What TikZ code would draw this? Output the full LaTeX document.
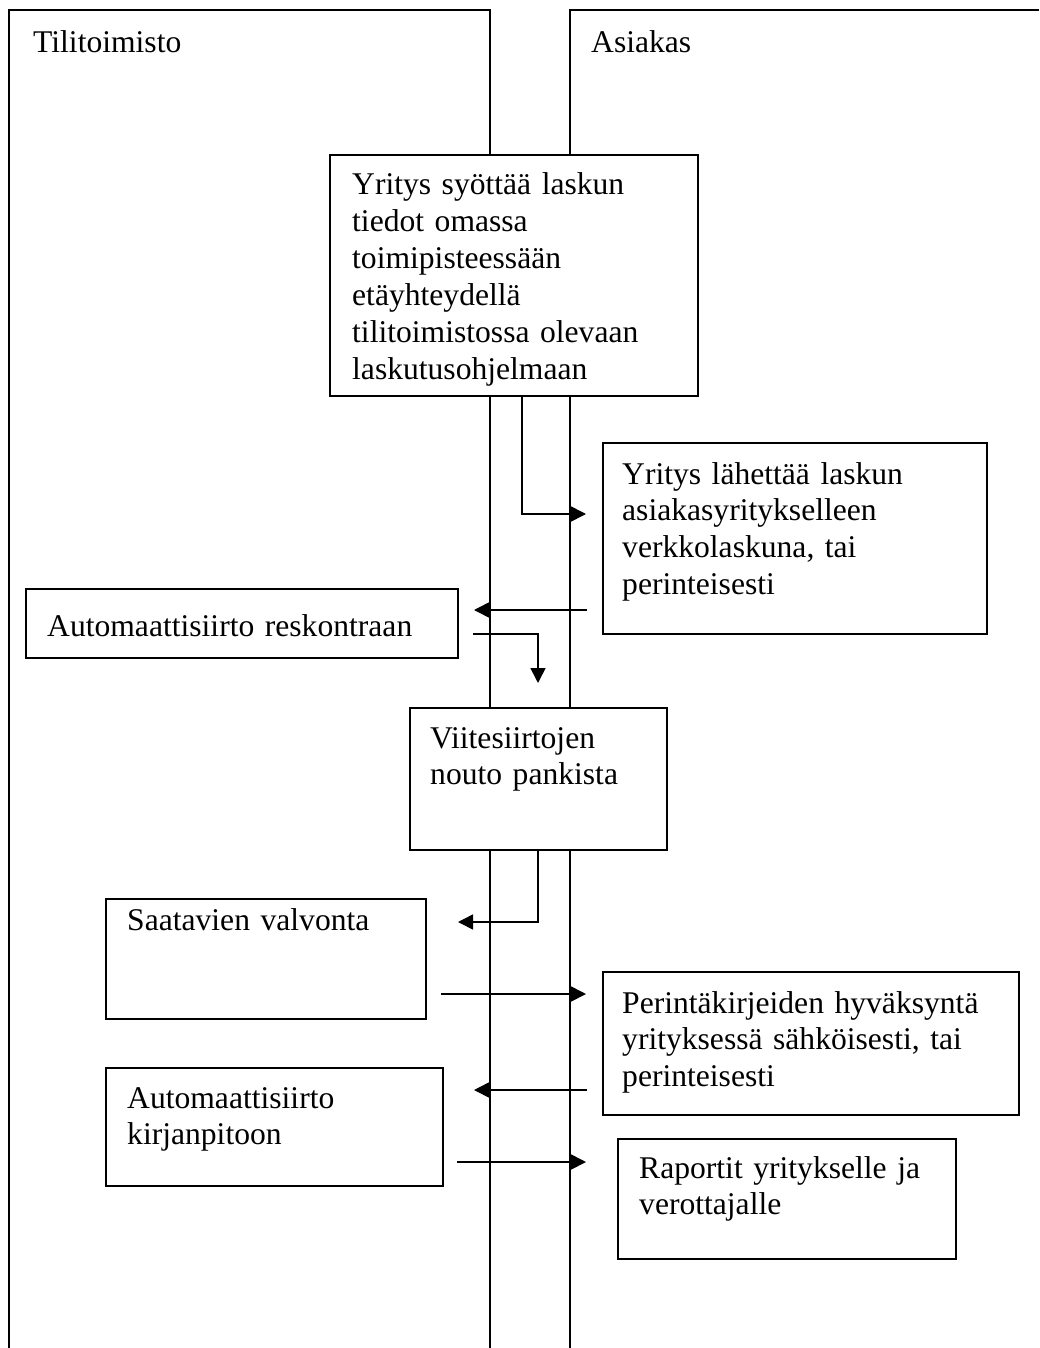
\documentclass[tikz,border=0pt]{standalone}
\usepackage{fontspec}
\setmainfont{Liberation Serif}
\usetikzlibrary{arrows.meta}
\usetikzlibrary{positioning}

\begin{document}
\begin{tikzpicture}[x=1pt,y=-1pt]
	\def\lw{1.6pt}

	\tikzset{lane/.style={draw,line width=\lw}}
	\tikzset{box/.style={draw,fill=white,line width=\lw,anchor=north west,inner sep=0pt}}
	\tikzset{txt/.style={anchor=base west,inner sep=0pt,align=left,text width=400pt,font=\fontsize{31.6}{36.8}\selectfont}}
	\tikzset{arr/.style={draw,line width=\lw,-{Triangle[length=15pt,width=15pt]}}}

	\useasboundingbox (0,0) rectangle (1039,1348);

	% lanes
	\draw[lane] (9,1348) |- (490,10) -- (490,1348);
	\draw[lane] (570,1348) |- (1039,10);
	\node[txt] (tili) at (33,53) {Tilitoimisto};
	\node[txt] (asiakas) at (591,53) {Asiakas};

	% boxes
	\node[box,minimum width=368pt,minimum height=241pt] (b1) at (329,154) {};
	\node[box,minimum width=384pt,minimum height=191pt] (b2) at (602,442) {};
	\node[box,minimum width=432pt,minimum height=69pt] (b3) at (25,588) {};
	\node[box,minimum width=257pt,minimum height=142pt] (b4) at (409,707) {};
	\node[box,minimum width=320pt,minimum height=120pt] (b5) at (105,898) {};
	\node[box,minimum width=416pt,minimum height=143pt] (b6) at (602,971) {};
	\node[box,minimum width=337pt,minimum height=118pt] (b7) at (105,1067) {};
	\node[box,minimum width=338pt,minimum height=120pt] (b8) at (617,1138) {};

	\node[txt] (t1) at (352,195) {Yritys syöttää laskun\\tiedot omassa\\toimipisteessään\\etäyhteydellä\\tilitoimistossa olevaan\\laskutusohjelmaan};
	\node[txt] (t2) at (622,484) {Yritys lähettää laskun\\asiakasyritykselleen\\verkkolaskuna, tai\\perinteisesti};
	\node[txt] (t3) at (47,636) {Automaattisiirto reskontraan};
	\node[txt] (t4) at (430,748) {Viitesiirtojen\\nouto pankista};
	\node[txt] (t5) at (127,930) {Saatavien valvonta};
	\node[txt] (t6) at (622,1013) {Perintäkirjeiden hyväksyntä\\yrityksessä sähköisesti, tai\\perinteisesti};
	\node[txt] (t7) at (127,1108) {Automaattisiirto\\kirjanpitoon};
	\node[txt] (t8) at (639,1178) {Raportit yritykselle ja\\verottajalle};

	% arrow ends
	\coordinate (c1) at (522,514);
	\coordinate (c1e) at (586,514);
	\coordinate (c2s) at (587,610);
	\coordinate (c2e) at (474,610);
	\coordinate (c3s) at (473,634);
	\coordinate (c3e) at (538,683);
	\coordinate (c4) at (538,922);
	\coordinate (c4e) at (458,922);
	\coordinate (c5s) at (441,994);
	\coordinate (c5e) at (586,994);
	\coordinate (c6s) at (587,1090);
	\coordinate (c6e) at (474,1090);
	\coordinate (c7s) at (457,1162);
	\coordinate (c7e) at (586,1162);

	\path[arr] (b1.south -| c1) |- (c1e);
	\path[arr] (c2s) -- (c2e);
	\path[arr] (c3s) -| (c3e);
	\path[arr] (b4.south -| c4) |- (c4e);
	\path[arr] (c5s) -- (c5e);
	\path[arr] (c6s) -- (c6e);
	\path[arr] (c7s) -- (c7e);
\end{tikzpicture}
\end{document}
